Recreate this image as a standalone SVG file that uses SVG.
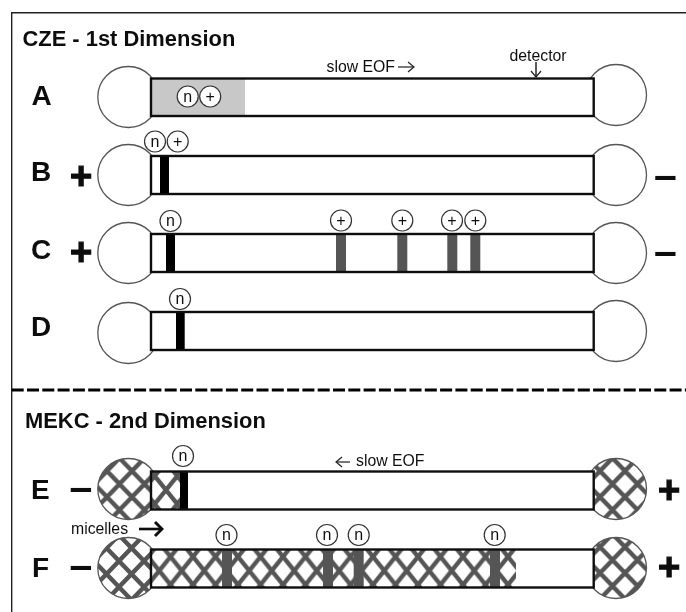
<svg xmlns="http://www.w3.org/2000/svg" width="686" height="612" viewBox="0 0 686 612">
<style>
text{font-family:"Liberation Sans",Arial,sans-serif;fill:#111}
.h{font-size:21.9px;font-weight:700}
.L{font-size:28px;font-weight:700}
.s{font-size:15.8px}
.b{font-size:38px;font-weight:700;text-anchor:middle;stroke:#111;stroke-width:1.2}
.m{font-size:41px;font-weight:700;text-anchor:middle}
.lb{font-size:16px;text-anchor:middle}
.res{fill:#fff;stroke:#555;stroke-width:1.3}
.tube{fill:none;stroke:#111;stroke-width:2.4}
.ion{fill:#fff;stroke:#333;stroke-width:1.2}
.k{fill:#000}
.g{fill:#555}
.arrow{fill:none;stroke:#222;stroke-width:1.2}
.x{stroke:#555;stroke-width:4.4;fill:none}
</style>
<defs>
<pattern id="hc" patternUnits="userSpaceOnUse" width="25" height="26">
<path class="x" d="M-25 -26L50 52M50 -26L-25 52M-25 26L25 -26M0 52L50 0M0 -26L50 26M-25 0L25 52"/>
</pattern>
<pattern id="hEL" href="#hc" x="119.5" y="484"/>
<pattern id="hER" href="#hc" x="612.5" y="484"/>
<pattern id="hFL" href="#hc" x="119" y="561"/>
<pattern id="hFR" href="#hc" x="612.5" y="560"/>
<pattern id="ht" patternUnits="userSpaceOnUse" width="22.5" height="28">
<path class="x" d="M-22.5 -28L45 56M45 -28L-22.5 56M-22.5 28L22.5 -28M0 56L45 0M0 -28L45 28M-22.5 0L22.5 56"/>
</pattern>
<pattern id="hTF" href="#ht" x="170.5" y="556.7"/>
<pattern id="hTE" href="#ht" x="166" y="490"/>
<marker id="open" markerWidth="10" markerHeight="12" refX="8" refY="6" orient="auto" markerUnits="userSpaceOnUse">
<path d="M2 1L8 6L2 11" fill="none" stroke="#222" stroke-width="1.2"/>
</marker>
<marker id="bold" markerWidth="12" markerHeight="18" refX="10" refY="9" orient="auto" markerUnits="userSpaceOnUse">
<path d="M3 2L10 9L3 16" fill="none" stroke="#111" stroke-width="3"/>
</marker>
<filter id="soft" x="0" y="0" width="100%" height="100%"><feGaussianBlur stdDeviation="0.35"/></filter>
</defs>
<rect width="686" height="612" fill="#fff"/>
<g filter="url(#soft)">
<g id="frame">
<path d="M686 12.7H11.7V612" fill="none" stroke="#222" stroke-width="1.4"/>
<path d="M11.7 390H686" fill="none" stroke="#000" stroke-width="3" stroke-dasharray="12 3.3"/>
<text class="h" x="22.5" y="46">CZE - 1st Dimension</text>
<text class="h" x="25" y="428">MEKC - 2nd Dimension</text>
</g>
<g id="node-A">
<circle class="res" cx="128.3" cy="97" r="30.5"/><circle class="res" cx="616" cy="95" r="30.5"/>
<rect x="151" y="78.5" width="442.7" height="37.5" fill="#fff"/>
<rect x="151" y="78.5" width="94" height="37.5" fill="#c8c8c8"/>
<rect class="tube" x="151" y="78.5" width="442.7" height="37.5"/>
<text class="L" x="31.5" y="105">A</text>
<circle class="ion" cx="187.7" cy="96.5" r="10.5"/><text class="lb" x="187.7" y="101.5">n</text>
<circle class="ion" cx="210.2" cy="96.5" r="10.5"/><text class="lb" x="210.2" y="102">+</text>
<text class="s" x="326.5" y="72">slow EOF</text>
<text class="s" x="509.5" y="61">detector</text>
</g>
<g id="node-B">
<circle class="res" cx="128.3" cy="175" r="30.5"/><circle class="res" cx="616" cy="175" r="30.5"/>
<rect x="151" y="156" width="442.7" height="38" fill="#fff"/>
<rect class="k" x="160" y="156" width="9" height="38"/>
<rect class="tube" x="151" y="156" width="442.7" height="38"/>
<text class="L" x="31" y="181">B</text>
<text class="b" x="81" y="189">+</text><text class="m" x="665.5" y="189.3">–</text>
<circle class="ion" cx="155" cy="141.5" r="10.5"/><text class="lb" x="155" y="146.5">n</text>
<circle class="ion" cx="177.7" cy="141.5" r="10.5"/><text class="lb" x="177.7" y="147">+</text>
</g>
<g id="node-C">
<circle class="res" cx="128.3" cy="253" r="30.5"/><circle class="res" cx="616" cy="253" r="30.5"/>
<rect x="151" y="234" width="442.7" height="38" fill="#fff"/>
<rect class="k" x="166" y="234" width="9" height="38"/>
<rect class="g" x="336" y="234" width="10" height="38"/>
<rect class="g" x="397.3" y="234" width="10" height="38"/>
<rect class="g" x="447.3" y="234" width="10" height="38"/>
<rect class="g" x="470.3" y="234" width="10" height="38"/>
<rect class="tube" x="151" y="234" width="442.7" height="38"/>
<text class="L" x="31" y="259">C</text>
<text class="b" x="81" y="265">+</text><text class="m" x="665.5" y="265.3">–</text>
<circle class="ion" cx="170.5" cy="221" r="10.5"/><text class="lb" x="170.5" y="226">n</text>
<circle class="ion" cx="341" cy="220.5" r="10.5"/><text class="lb" x="341" y="226">+</text>
<circle class="ion" cx="402.3" cy="220.5" r="10.5"/><text class="lb" x="402.3" y="226">+</text>
<circle class="ion" cx="452" cy="220.5" r="10.5"/><text class="lb" x="452" y="226">+</text>
<circle class="ion" cx="475.3" cy="220.5" r="10.5"/><text class="lb" x="475.3" y="226">+</text>
</g>
<g id="node-D">
<circle class="res" cx="128.3" cy="333" r="30.5"/><circle class="res" cx="616" cy="331" r="30.5"/>
<rect x="151" y="312" width="442.7" height="38" fill="#fff"/>
<rect class="k" x="176" y="312" width="8.7" height="38"/>
<rect class="tube" x="151" y="312" width="442.7" height="38"/>
<text class="L" x="31" y="336">D</text>
<circle class="ion" cx="180" cy="299" r="10.5"/><text class="lb" x="180" y="304">n</text>
</g>
<g id="node-E">
<circle cx="128.3" cy="489" r="30.5" fill="#fff"/><circle class="res" cx="128.3" cy="489" r="30.5" style="fill:url(#hEL)"/>
<circle cx="616" cy="489" r="30.5" fill="#fff"/><circle class="res" cx="616" cy="489" r="30.5" style="fill:url(#hER)"/>
<rect x="151" y="471.5" width="442.7" height="38" fill="#fff"/>
<rect x="151" y="471.5" width="29" height="38" fill="url(#hTE)"/>
<rect class="k" x="180" y="471.5" width="8" height="38"/>
<rect class="tube" x="151" y="471.5" width="442.7" height="38"/>
<text class="L" x="31" y="499">E</text>
<text class="m" x="81" y="501.3">–</text><text class="b" x="669" y="503">+</text>
<circle class="ion" cx="183" cy="456" r="10.5"/><text class="lb" x="183" y="461">n</text>
<text class="s" x="356" y="466">slow EOF</text>
</g>
<g id="node-F">
<circle cx="128.3" cy="568" r="30.5" fill="#fff"/><circle class="res" cx="128.3" cy="568" r="30.5" style="fill:url(#hFL)"/>
<circle cx="616" cy="568" r="30.5" fill="#fff"/><circle class="res" cx="616" cy="568" r="30.5" style="fill:url(#hFR)"/>
<rect x="151" y="549.5" width="442.7" height="38" fill="#fff"/>
<rect x="151" y="549.5" width="365" height="38" fill="url(#hTF)"/>
<rect class="g" x="222" y="549.5" width="10" height="38"/>
<rect class="g" x="323" y="549.5" width="10" height="38"/>
<rect class="g" x="353.7" y="549.5" width="10" height="38"/>
<rect class="g" x="490" y="549.5" width="10" height="38"/>
<rect class="tube" x="151" y="549.5" width="442.7" height="38"/>
<text class="L" x="32" y="577">F</text>
<text class="m" x="81" y="579">–</text><text class="b" x="669" y="580">+</text>
<circle class="ion" cx="226.5" cy="535" r="10.5"/><text class="lb" x="226.5" y="540">n</text>
<circle class="ion" cx="327" cy="535" r="10.5"/><text class="lb" x="327" y="540">n</text>
<circle class="ion" cx="358.7" cy="535" r="10.5"/><text class="lb" x="358.7" y="540">n</text>
<circle class="ion" cx="494.7" cy="535" r="10.5"/><text class="lb" x="494.7" y="540">n</text>
<text class="s" x="71" y="534">micelles</text>
</g>
<g id="connectors">
<path class="arrow" d="M398 67H414" marker-end="url(#open)"/>
<path class="arrow" d="M536 62V77" marker-end="url(#open)" style="stroke-width:1.5"/>
<path class="arrow" d="M350 462H336" marker-end="url(#open)"/>
<path d="M139 529H162" fill="none" stroke="#111" stroke-width="2.6" marker-end="url(#bold)"/>
</g>
</g>
</svg>
